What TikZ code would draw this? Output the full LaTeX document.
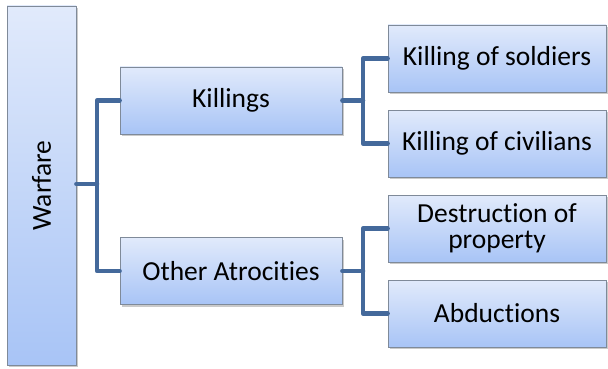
\documentclass[tikz,border=0pt]{standalone}
\usepackage{fontspec}
\setmainfont{Carlito}[Ligatures={NoCommon,NoContextual}]
\usetikzlibrary{shadows}
\definecolor{boxtop}{HTML}{E1EAFB}
\definecolor{boxbot}{HTML}{A8C4F6}
\definecolor{boxline}{HTML}{7F8A99}
\definecolor{linkblue}{HTML}{44699B}
\tikzset{
  x=1pt, y=-1pt,
  catbox/.style={draw=boxline, line width=0.8pt, top color=boxtop, bottom color=boxbot,
    inner sep=0pt, font=\fontsize{27.5}{30}\selectfont, align=center,
    drop shadow={shadow xshift=1.5pt, shadow yshift=-2pt, opacity=0.35, fill=black!60}},
  link/.style={draw=linkblue, line width=4.5pt, line join=round, line cap=round}
}
\begin{document}
\begin{tikzpicture}
\useasboundingbox (0,0) rectangle (608,369);
% root
\node[catbox, minimum width=69pt, minimum height=359pt] (war) at (41.5,185.5)
  {\rotatebox{90}{Warfare}};
% second level
\node[catbox, minimum width=222pt, minimum height=67pt] (kil) at (231,100.5) {Killings};
\node[catbox, minimum width=222pt, minimum height=67pt] (oth) at (231,271) {Other Atrocit\kern0pt ies};
% leaves
\node[catbox, minimum width=218pt, minimum height=67pt] (sol) at (497,58.5) {Killing of soldiers};
\node[catbox, minimum width=218pt, minimum height=67pt] (civ) at (497,143.5) {Killing of civilians};
\node[catbox, minimum width=218pt, minimum height=67pt] (des) at (497,228.5) {Destruction of\\[-4pt]property};
\node[catbox, minimum width=218pt, minimum height=67pt] (abd) at (497,313.5) {Abductions};
% branch points
\coordinate (j0) at (97,184);
\coordinate (j1) at (363,100.5);
\coordinate (j2) at (363,271);
% connectors
\draw[link] (war.east |- j0) -- (j0);
\draw[link] (kil.west) -| (j0) |- (oth.west);
\draw[link] (kil.east) -- (j1);
\draw[link] (sol.west) -| (j1) |- (civ.west);
\draw[link] (oth.east) -- (j2);
\draw[link] (des.west) -| (j2) |- (abd.west);
\end{tikzpicture}
\end{document}
